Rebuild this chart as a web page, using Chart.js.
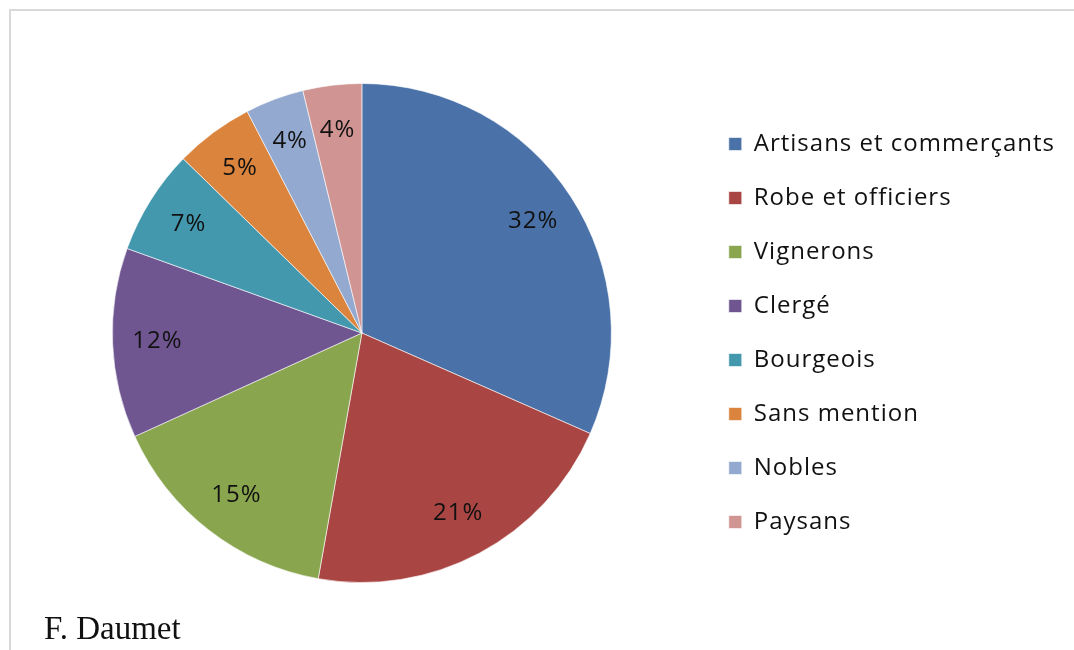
<!DOCTYPE html>
<html>
<head>
<meta charset="utf-8">
<script src="https://cdn.jsdelivr.net/npm/chart.js@4/dist/chart.umd.min.js"></script>
<style>
  html, body { margin: 0; padding: 0; background: #fff; }
  #wrap { width: 1074px; height: 650px; position: relative; }
</style>
</head>
<body>
<div id="wrap"><canvas id="pie" width="1074" height="650"></canvas></div>
<script>
var categories = ['Artisans et commerçants', 'Robe et officiers', 'Vignerons', 'Clergé',
  'Bourgeois', 'Sans mention', 'Nobles', 'Paysans'];
var shares = [31.6, 21.2, 15.4, 12.3, 6.8, 5.1, 3.8, 3.8];
var colours = ['#4a72a8', '#a94643', '#89a54e', '#6f5690', '#4398ae', '#da843d', '#93a9cf', '#d09493'];
var credit = 'F. Daumet';

var spacing = '1px';

// cadre gris + texte source
var frame = {
  id: 'frame',
  beforeLayout: function (chart) {
    chart.ctx.letterSpacing = spacing;
  },
  beforeDraw: function (chart) {
    var c = chart.ctx;
    c.letterSpacing = spacing;
    c.save();
    c.strokeStyle = '#d9d9d9';
    c.lineWidth = 2;
    c.beginPath();
    c.moveTo(10, 650);
    c.lineTo(10, 10);
    c.lineTo(1074, 10);
    c.stroke();
    c.restore();
  },
  afterDraw: function (chart) {
    var c = chart.ctx;
    c.save();
    c.letterSpacing = '0px';
    c.fillStyle = '#111';
    c.font = '33px "Liberation Serif"';
    c.textBaseline = 'alphabetic';
    c.fillText(credit, 44, 639);
    c.restore();
  }
};

// pourcentages dans les parts
var sliceLabels = {
  id: 'sliceLabels',
  afterDatasetsDraw: function (chart) {
    var c = chart.ctx;
    var meta = chart.getDatasetMeta(0);
    var total = shares.reduce(function (a, b) { return a + b; }, 0);
    c.save();
    c.fillStyle = '#111';
    c.font = '24px "Open Sans"';
    c.textAlign = 'center';
    c.textBaseline = 'middle';
    meta.data.forEach(function (arc, i) {
      var p = arc.getProps(['x', 'y', 'startAngle', 'endAngle', 'outerRadius'], true);
      var mid = (p.startAngle + p.endAngle) / 2;
      var r = p.outerRadius * 0.82;
      var txt = Math.round(shares[i] / total * 100) + '%';
      c.fillText(txt, p.x + Math.cos(mid) * r, p.y + Math.sin(mid) * r);
    });
    c.restore();
  }
};

var ctx = document.getElementById('pie').getContext('2d');
ctx.letterSpacing = spacing;
var chart = new Chart(ctx, {
  type: 'pie',
  data: {
    labels: categories,
    datasets: [{
      data: shares,
      backgroundColor: colours,
      borderColor: 'rgba(255,255,255,0.6)',
      borderWidth: 1
    }]
  },
  options: {
    responsive: false,
    animation: false,
    layout: { padding: { left: 25, right: 9, top: 83, bottom: 67 } },
    plugins: {
      tooltip: { enabled: false },
      legend: {
        position: 'right',
        labels: {
          boxWidth: 13,
          boxHeight: 13,
          padding: 30,
          color: '#111',
          font: { family: 'Open Sans', size: 24 }
        }
      }
    }
  },
  plugins: [frame, sliceLabels]
});
</script>
</body>
</html>
